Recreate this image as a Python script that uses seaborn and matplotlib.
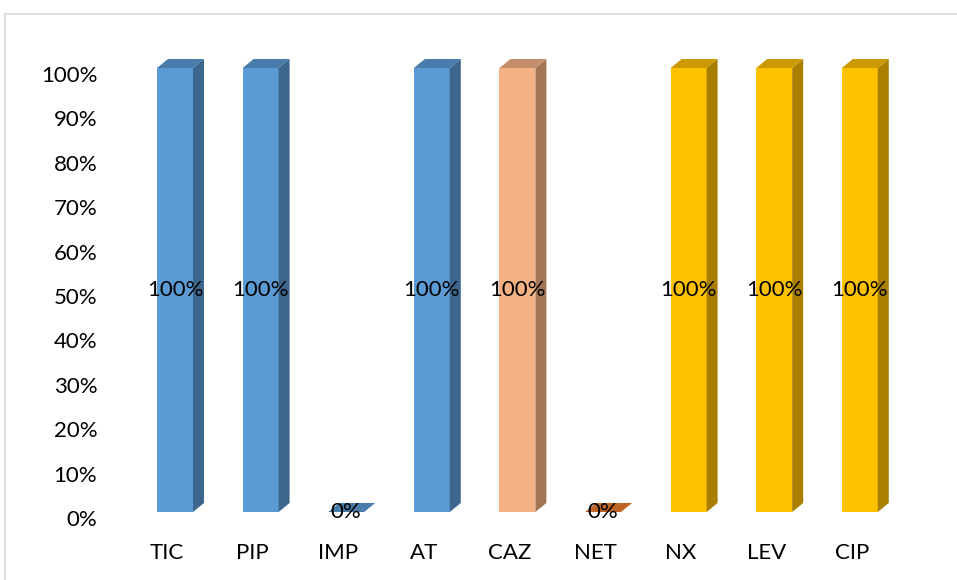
import numpy as np
import pandas as pd
import matplotlib
matplotlib.use("Agg")
import matplotlib.pyplot as plt
import matplotlib.colors as mcolors
from matplotlib.patches import Polygon, Rectangle
from matplotlib.transforms import ScaledTranslation
import seaborn as sns

# Chart data
categories = ["TIC", "PIP", "IMP", "AT", "CAZ", "NET", "NX", "LEV", "CIP"]
values = [100, 100, 0, 100, 100, 0, 100, 100, 100]
bar_colors = ["#5B9BD5", "#5B9BD5", "#5B9BD5", "#5B9BD5", "#F4B183",
              "#ED7D31", "#FFC000", "#FFC000", "#FFC000"]
y_ticks = [0, 10, 20, 30, 40, 50, 60, 70, 80, 90, 100]
y_tick_labels = [f"{t}%" for t in y_ticks]

sns.set_theme(style="white")
plt.rcParams["font.family"] = ["Lato", "DejaVu Sans"]

W, H, DPI = 957, 580, 100
fig = plt.figure(figsize=(W / DPI, H / DPI), dpi=DPI)

# axes placed in pixel terms
left_px, right_px, top_px, bottom_px = 100, 935, 40, 540
ax = fig.add_axes([left_px / W, 1 - bottom_px / H,
                   (right_px - left_px) / W, (bottom_px - top_px) / H])

df = pd.DataFrame({"cat": categories, "val": values})
sns.barplot(data=df, x="cat", y="val", hue="cat", palette=bar_colors,
            saturation=1, width=0.42, legend=False, ax=ax, linewidth=0)

# scales: x=0 at 175px, 85.6 px per category; 0% at 518px, 4.44 px per 1%
x0_px, xstep = 175, 85.6
y0_px, ystep = 518, 4.44
ax.set_xlim((left_px - x0_px) / xstep, (right_px - x0_px) / xstep)
ax.set_ylim((y0_px - bottom_px) / ystep, (y0_px - top_px) / ystep)

# 3D depth of each column, converted from pixels to data units
dx = 11 / xstep
dy = 9 / ystep
lift = 6 / ystep  # front face sits slightly above the floor line


def shade(c, f):
    r, g, b = mcolors.to_rgb(c)
    return (r * f, g * f, b * f)


for cont, col in zip(ax.containers, bar_colors):
    for p in cont.patches:
        p.set_y(p.get_y() + lift)
        x, y = p.get_x(), p.get_y()
        w, h = p.get_width(), p.get_height()
        side = Polygon([(x + w, y), (x + w + dx, y + dy),
                        (x + w + dx, y + h + dy), (x + w, y + h)],
                       closed=True, facecolor=shade(col, 0.66), edgecolor="none", zorder=p.get_zorder())
        top = Polygon([(x, y + h), (x + w, y + h), (x + w + dx, y + h + dy),
                       (x + dx, y + h + dy)],
                      closed=True, facecolor=shade(col, 0.8), edgecolor="none", zorder=p.get_zorder())
        ax.add_patch(side)
        ax.add_patch(top)
    ax.bar_label(cont, labels=[f"{v:.0f}%" for v in cont.datavalues],
                 label_type="center", fontsize=16, color="#000000", zorder=5)

ax.set_yticks(y_ticks)
ax.set_yticklabels(y_tick_labels, fontsize=16, color="#000000")
ax.set_xticks(range(len(categories)))
ax.set_xticklabels(categories, fontsize=16, color="#000000")
ax.tick_params(axis="both", length=0)
ax.tick_params(axis="y", pad=2)
ax.tick_params(axis="x", pad=2)
ax.set_xlabel("")
ax.set_ylabel("")
for lbl in ax.get_xticklabels():
    lbl.set_transform(lbl.get_transform() + ScaledTranslation(-8 / DPI, 0, fig.dpi_scale_trans))
for s in ax.spines.values():
    s.set_visible(False)
ax.grid(False)
ax.patch.set_alpha(0)

# light chart-area frame
fig.patches.append(Rectangle((4.5 / W, -0.2), 1.5, 1.2 - 13.5 / H,
                             transform=fig.transFigure, fill=False,
                             edgecolor="#D9D9D9", linewidth=1.2))

fig.savefig("out.png", dpi=DPI)
